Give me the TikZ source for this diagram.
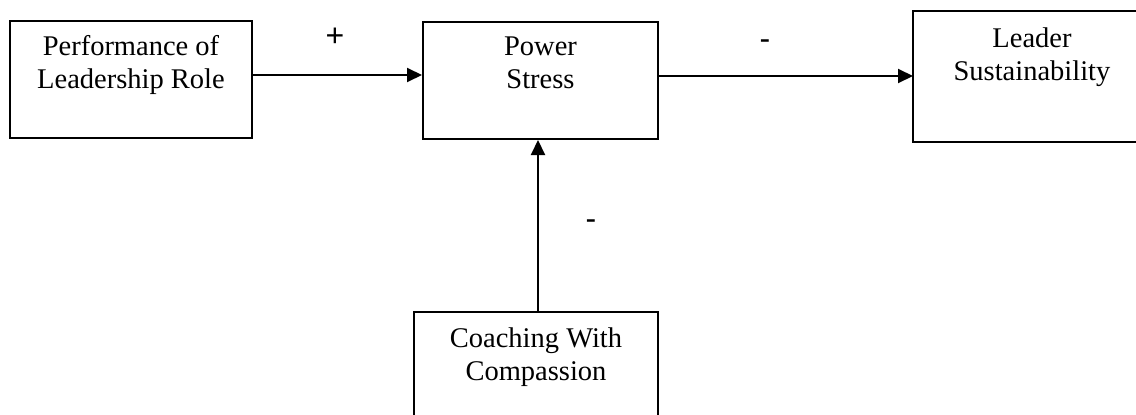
\documentclass[tikz,border=0pt]{standalone}
\usepackage{fontspec}
\setmainfont{Liberation Serif}
\newfontfamily\signfont{Liberation Sans}
\usetikzlibrary{arrows.meta,calc}
\begin{document}
\begin{tikzpicture}[x=1pt,y=-1pt,
  boxshape/.style={rectangle,inner sep=0pt,line width=2pt},
  boxline/.style={line width=2pt},
  boxtext/.style={anchor=base,align=center,inner sep=0pt,font=\fontsize{28.5}{33}\selectfont},
  sign/.style={inner sep=0pt,font=\signfont\fontsize{32}{34}\selectfont},
  conn/.style={line width=2pt,-{Triangle[length=15pt,width=14pt]}}]
\useasboundingbox (0,0) rectangle (1136,415);
% boxes
\node[boxshape,draw,minimum width=242pt,minimum height=117pt] (b1) at (131,79.5) {};
\node[boxshape,draw,minimum width=235pt,minimum height=117pt] (b2) at (540.5,80.5) {};
\node[boxshape,minimum width=236pt,minimum height=129pt] (b3) at (1032,76.5) {};
\draw[boxline] (b3.north east) -- (b3.north west) -- (b3.south west) -- (b3.south east);
\node[boxshape,minimum width=242pt,minimum height=130pt] (b4) at (536,378) {};
\draw[boxline] (b4.south west) -- (b4.north west) -- (b4.north east) -- (b4.south east);
% texts (base anchor = last line's baseline)
\node[boxtext] (t1) at (131,88) {Performance of\\Leadership Role};
\node[boxtext] (t2) at (540.5,88) {Power\\Stress};
\node[boxtext] (t3) at (1032,80) {Leader\\Sustainability};
\node[boxtext] (t4) at (536,380) {Coaching With\\Compassion};
% connectors
\draw[conn] ([yshift=4.5pt]b1.east) -- ([yshift=4.5pt]b1.east -| b2.west);
\draw[conn] ([yshift=4.5pt]b2.east) -- ([yshift=4.5pt]b2.east -| b3.west);
\draw[conn] ([xshift=2pt]b4.north) -- ([xshift=2pt]b4.north |- b2.south);
% signs
\node[sign] (s1) at (335,37) {+};
\node[sign] (s2) at (765,45) {-};
\node[sign] (s3) at (591,225) {-};
\end{tikzpicture}
\end{document}
